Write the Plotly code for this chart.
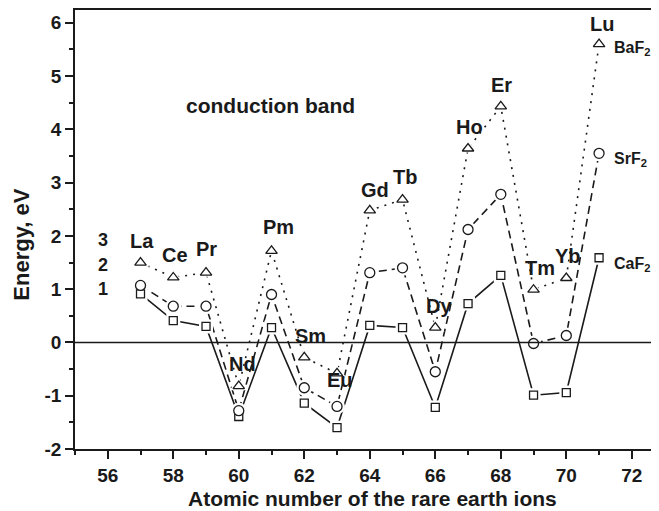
import plotly.graph_objects as go

atomic_number = [57, 58, 59, 60, 61, 62, 63, 64, 65, 66, 67, 68, 69, 70, 71]
elements = ["La", "Ce", "Pr", "Nd", "Pm", "Sm", "Eu", "Gd", "Tb", "Dy", "Ho", "Er", "Tm", "Yb", "Lu"]
caf2 = [0.91, 0.41, 0.30, -1.39, 0.28, -1.14, -1.60, 0.32, 0.28, -1.22, 0.73, 1.26, -0.99, -0.94, 1.59]
srf2 = [1.07, 0.68, 0.68, -1.28, 0.90, -0.85, -1.20, 1.31, 1.40, -0.55, 2.12, 2.78, -0.02, 0.13, 3.55]
baf2 = [1.50, 1.22, 1.31, -0.82, 1.72, -0.28, -0.58, 2.48, 2.68, 0.28, 3.64, 4.43, 0.99, 1.21, 5.60]

x_ticks = [56, 58, 60, 62, 64, 66, 68, 70, 72]
y_ticks = [-2, -1, 0, 1, 2, 3, 4, 5, 6]
y_tick_labels = ["-2", "-1", "0", "1", "2", "3", "4", "5", "6"]

# element label positions (x, y)
label_x = [57.05, 58.05, 59.0, 60.1, 61.2, 62.2, 63.1, 64.15, 65.07, 66.1, 67.05, 68.03, 69.2, 70.05, 71.1]
label_y = [1.90, 1.65, 1.76, -0.41, 2.16, 0.13, -0.70, 2.87, 3.11, 0.68, 4.05, 4.84, 1.40, 1.62, 5.97]

FONT = "Liberation Sans, Arial, sans-serif"
INK = "#1a1a1a"

fig = go.Figure()

series = [
    ("CaF2", caf2, "square", "solid", 8),
    ("SrF2", srf2, "circle", "8px,5px", 10),
    ("BaF2", baf2, "triangle-up", "2px,6px", 10),
]

for name, vals, sym, dash, size in series:
    fig.add_trace(go.Scatter(x=atomic_number, y=vals, mode="lines",
                             line=dict(color=INK, width=1.6, dash=dash),
                             hoverinfo="skip", showlegend=False))
for name, vals, sym, dash, size in series:
    fig.add_trace(go.Scatter(x=atomic_number, y=vals, mode="markers",
                             marker=dict(symbol=sym, size=size + 6, color="white",
                                         line=dict(width=0)),
                             hoverinfo="skip", showlegend=False))
for name, vals, sym, dash, size in series:
    fig.add_trace(go.Scatter(x=atomic_number, y=vals, mode="markers", name=name,
                             marker=dict(symbol=sym, size=size, color="white",
                                         line=dict(width=1.3, color=INK)),
                             showlegend=False))

annotations = []
for t, x, y in zip(elements, label_x, label_y):
    annotations.append(dict(x=x, y=y, text="<b>%s</b>" % t, showarrow=False,
                            font=dict(family=FONT, size=20, color=INK)))

right_labels = [("BaF<sub>2</sub>", 5.52), ("SrF<sub>2</sub>", 3.43), ("CaF<sub>2</sub>", 1.46)]
for t, y in right_labels:
    annotations.append(dict(x=71.4, y=y, text="<b>%s</b>" % t, showarrow=False, xanchor="left",
                            font=dict(family=FONT, size=16, color=INK)))

for t, y in [("3", 1.93), ("2", 1.46), ("1", 1.01)]:
    annotations.append(dict(x=55.85, y=y, text="<b>%s</b>" % t, showarrow=False,
                            font=dict(family=FONT, size=18, color=INK)))

annotations.append(dict(x=58.33, y=4.45, text="<b>conduction band</b>", showarrow=False,
                        xanchor="left", font=dict(family=FONT, size=21, color=INK)))

# axis titles as annotations (paper coords relative to the plot area)
annotations.append(dict(xref="paper", yref="paper", x=-0.091, y=0.465, textangle=-90,
                        xanchor="center", yanchor="middle",
                        text="<b>Energy, eV</b>", showarrow=False,
                        font=dict(family=FONT, size=22, color=INK)))
annotations.append(dict(xref="paper", yref="paper", x=0.51, y=-0.112,
                        xanchor="center", yanchor="middle",
                        text="<b>Atomic number of the rare earth ions</b>", showarrow=False,
                        font=dict(family=FONT, size=21, color=INK)))

fig.update_layout(
    width=651, height=503,
    margin=dict(l=67, r=0, t=2, b=62),
    paper_bgcolor="white", plot_bgcolor="white",
    annotations=annotations,
    shapes=[dict(type="line", xref="paper", x0=0, x1=1, yref="y", y0=0, y1=0,
                 line=dict(color=INK, width=1.5))],
    font=dict(family=FONT, color=INK),
)
fig.update_xaxes(
    range=[55, 72.83], tickmode="array", tickvals=x_ticks,
    ticktext=["<b>%d</b>" % v for v in x_ticks],
    ticks="outside", ticklen=8, tickwidth=1.5,
    tickcolor=INK, showline=True, linecolor=INK, linewidth=1.5, mirror=True,
    showgrid=False, zeroline=False,
    tickfont=dict(family=FONT, size=19, color=INK),
    minor=dict(dtick=1, tick0=55, ticks="outside", ticklen=4, tickwidth=1.5, tickcolor=INK),
)
fig.update_yaxes(
    range=[-2, 6.24], tickmode="array", tickvals=y_ticks,
    ticktext=["<b>%s</b>" % s for s in y_tick_labels],
    ticks="outside", ticklen=8, tickwidth=1.5,
    tickcolor=INK, showline=True, linecolor=INK, linewidth=1.5, mirror=False,
    showgrid=False, zeroline=False,
    tickfont=dict(family=FONT, size=19, color=INK),
    minor=dict(dtick=0.5, tick0=0, ticks="outside", ticklen=4, tickwidth=1.5, tickcolor=INK),
)

fig.write_html("out.html")
